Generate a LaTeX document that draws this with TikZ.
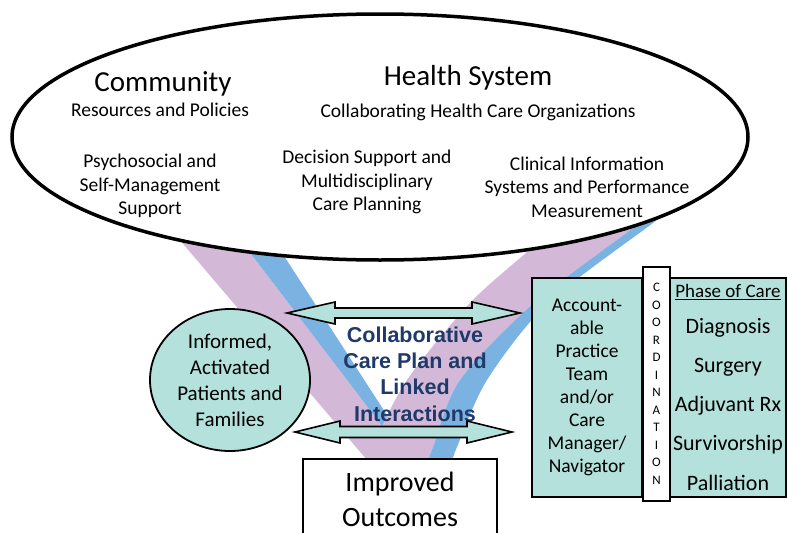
\documentclass[tikz,border=0pt]{standalone}
\usepackage{fontspec}
\setmainfont{Carlito}
\newfontfamily\helv{Liberation Sans}
\usetikzlibrary{shapes.geometric}
\definecolor{bandpurple}{RGB}{211,184,216}
\definecolor{bandblue}{RGB}{122,179,226}
\definecolor{mint}{RGB}{180,225,219}
\definecolor{navy}{RGB}{31,57,104}
\tikzset{
  bigtext/.style={font=\fontsize{29}{35}\selectfont, anchor=base},
  subtext/.style={font=\fontsize{19.5}{23.5}\selectfont, align=center},
  mintbox/.style={draw, fill=mint, line width=1.8, inner sep=0},
  linkarrow/.style={draw, fill=mint, line width=1.6, line join=miter}
}
\begin{document}
\begin{tikzpicture}[x=1pt,y=-1pt]
\useasboundingbox (0,0) rectangle (788,533);
\fill[bandpurple] (167,225) -- (229,225) -- (408,460) -- (367,460) -- cycle;
\fill[bandblue] (229,225) -- (264,225) -- (416,460) -- (408,460) -- cycle;
\fill[bandpurple] plot[smooth] coordinates {(560,222) (527,252) (470,303) (407,380) (372,447) (366,462)}
  -- plot[smooth] coordinates {(428,462) (433,447) (460,380) (534,303) (640,223) (670,200)} -- cycle;
\fill[bandblue] plot[smooth] coordinates {(670,200) (640,223) (534,303) (460,380) (433,447) (428,462)}
  -- plot[smooth] coordinates {(452,462) (457,447) (487,380) (548,303) (653,223) (683,200)} -- cycle;
\draw[line width=3.5, fill=white] (380,137) ellipse [x radius=368, y radius=123];
\node[bigtext] (community) at (163,91) {Community};
\node[subtext, anchor=base] (resources) at (160,116) {Resources and Policies};
\node[bigtext] (health) at (468,85) {Health System};
\node[subtext, anchor=base] (organizations) at (478,117) {Collaborating Health Care Organizations};
\node[subtext] (selfmgmt) at (150,186) {Psychosocial and\\Self-Management\\Support};
\node[subtext] (decision) at (367,182) {Decision Support and\\Multidisciplinary\\Care Planning};
\node[subtext] (clinical) at (587,187) {Clinical Information\\Systems and Performance\\Measurement};
\node[ellipse, mintbox, minimum width=160, minimum height=142, align=center,
  font=\fontsize{21}{26}\selectfont] (patients) at (230,380) {Informed,\\Activated\\Patients and\\Families};
\node[font=\helv\bfseries\fontsize{21.5}{26.3}\selectfont, text=navy, align=center] (plan) at (415,374)
  {Collaborative\\Care Plan and\\Linked\\Interactions};
\draw[linkarrow] (287,313) -- ++(48,-11) -- ++(0,6) -- (472,308) -- ++(0,-6) -- (520,313)
  -- ++(-48,11) -- ++(0,-6) -- (335,318) -- ++(0,6) -- cycle;
\draw[linkarrow] (295,432) -- ++(45,-11) -- ++(0,5.5) -- (467,426.5) -- ++(0,-5.5) -- (512,432)
  -- ++(-45,11) -- ++(0,-5.5) -- (340,437.5) -- ++(0,5.5) -- cycle;
\node[draw, fill=white, line width=1.5, minimum width=194, minimum height=82, anchor=north, align=center,
  font=\fontsize{28}{35}\selectfont] (outcomes) at (400,458) {Improved\\Outcomes};
\node[mintbox, minimum width=110, minimum height=219, align=center,
  font=\fontsize{19.5}{23}\selectfont] (team) at (587,387.5)
  {Account-\\able\\Practice\\Team\\and/or\\Care\\Manager/\\Navigator};
\node[mintbox, minimum width=116, minimum height=219] (phase) at (728,387.5) {};
\node[font=\fontsize{19}{23}\selectfont] (phasehead) at (728,292) {\underline{Phase of Care}};
\foreach \t [count=\i] in {Diagnosis,Surgery,Adjuvant Rx,Survivorship,Palliation}
  \node[font=\fontsize{22}{26}\selectfont] (item\i) at (728,289.5+38.75*\i) {\t};
\node[draw, fill=white, line width=1.8, minimum width=27, minimum height=234, inner sep=0, align=center,
  font=\fontsize{13}{17.5}\selectfont] (coord) at (656.5,384) {C\\O\\O\\R\\D\\I\\N\\A\\T\\I\\O\\N};
\end{tikzpicture}
\end{document}
